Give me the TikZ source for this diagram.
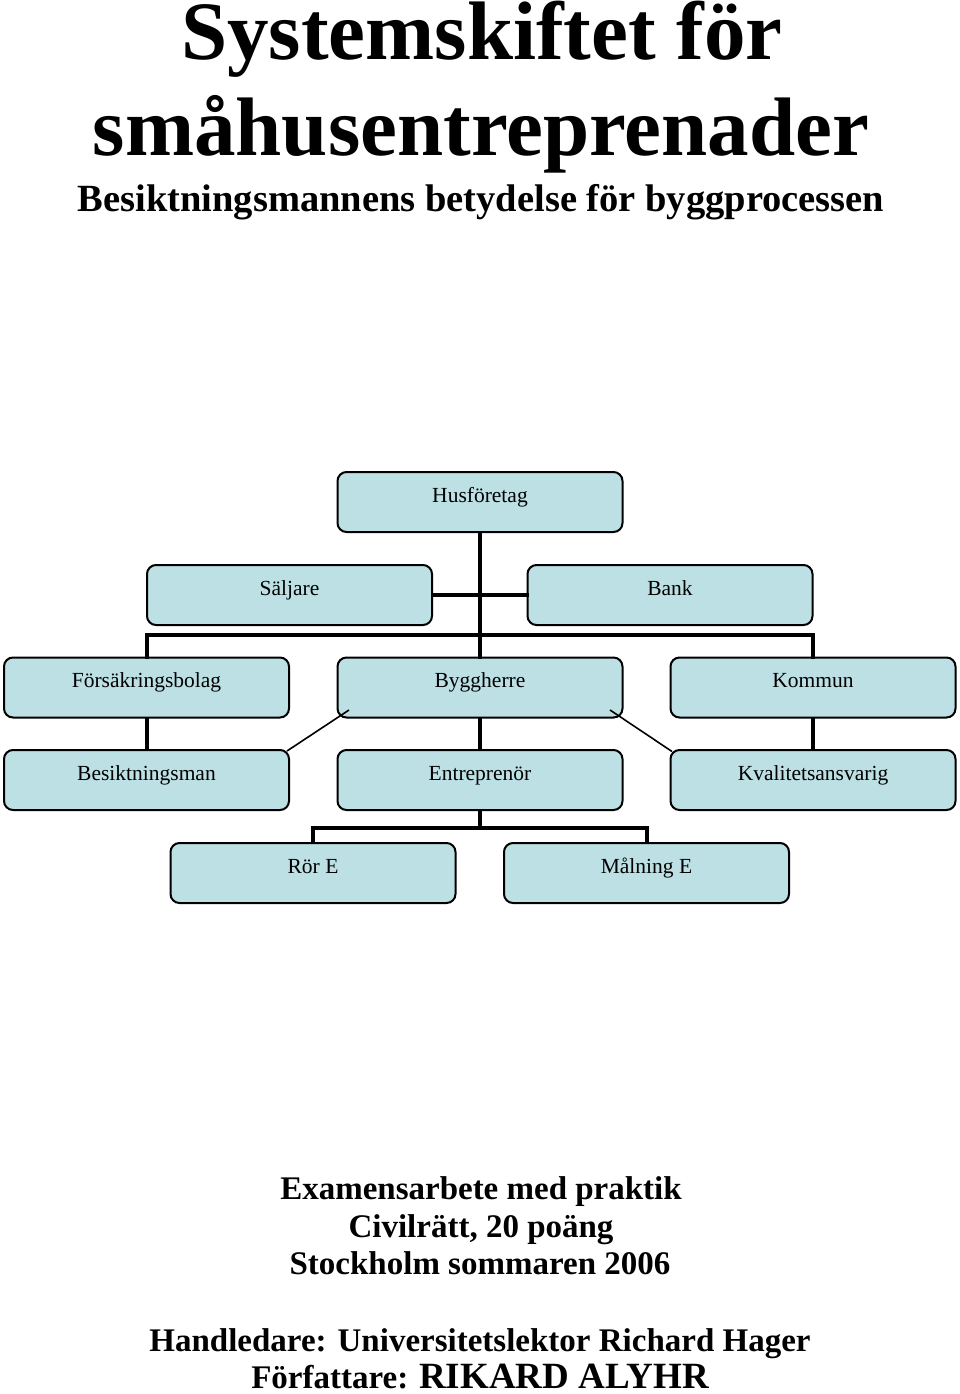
\documentclass[tikz,border=0pt]{standalone}
\usepackage{fontspec}
\setmainfont{Liberation Serif}
\definecolor{boxfill}{HTML}{BCE0E4}
\tikzset{
  orgbox/.style={draw=black, line width=2pt, rounded corners=9pt, fill=boxfill,
    minimum width=285pt, inner xsep=0pt, inner ysep=0pt, text height=30pt, text depth=30pt,
    font=\fontsize{21.5}{24}\selectfont},
  conn/.style={line width=4pt, draw=black, line join=miter, line cap=rect},
  diagline/.style={line width=1.6pt, draw=black},
  titletext/.style={anchor=base, inner sep=0pt, font=\fontsize{83}{83}\selectfont\bfseries},
  subtext/.style={anchor=base, inner sep=0pt, font=\fontsize{38.5}{40}\selectfont\bfseries},
  foottext/.style={anchor=base, inner sep=0pt, font=\fontsize{33}{36}\selectfont\bfseries}
}
\begin{document}
\begin{tikzpicture}[x=1pt,y=-1pt]
\useasboundingbox (0,0) rectangle (960,1394);
% titles
\node[titletext] (t1) at (482,60) {Systemskiftet för};
\node[titletext] (t2) at (481,155) {småhusentreprenader};
\node[subtext] (t3) at (481,211) {Besiktningsmannens betydelse för byggprocessen};
% boxes
\node[orgbox] (hus) at (480,502) {Husföretag};
\node[orgbox] (salj) at (289.5,595) {Säljare};
\node[orgbox] (bank) at (670,595) {Bank};
\node[orgbox] (fors) at (146.5,687.5) {Försäkringsbolag};
\node[orgbox] (byg) at (480,687.5) {Byggherre};
\node[orgbox] (komm) at (813,687.5) {Kommun};
\node[orgbox] (besikt) at (146.5,780) {Besiktningsman};
\node[orgbox] (entr) at (480,780) {Entreprenör};
\node[orgbox] (kval) at (813,780) {Kvalitetsansvarig};
\node[orgbox] (ror) at (313,873) {Rör E};
\node[orgbox] (maln) at (646.5,873) {Målning E};
% junctions
\coordinate (b1) at (480,635);
\coordinate (b2) at (480,828);
% connectors
\draw[conn] (hus.south) -- (byg.north);
\draw[conn] (salj.east) -- (bank.west);
\draw[conn] (fors.north) |- (b1) -| (komm.north);
\draw[conn] (fors.south) -- (besikt.north);
\draw[conn] (byg.south) -- (entr.north);
\draw[conn] (komm.south) -- (kval.north);
\draw[conn] (entr.south) -- (b2);
\draw[conn] (ror.north) |- (b2) -| (maln.north);
\draw[diagline] ([shift={(-3,2)}]besikt.north east) -- ([shift={(12.5,-8.5)}]byg.south west);
\draw[diagline] ([shift={(2.5,2.5)}]kval.north west) -- ([shift={(-13.5,-8.5)}]byg.south east);
% footer
\node[foottext] (f1) at (481,1199) {Examensarbete med praktik};
\node[foottext] (f2) at (481,1237) {Civilrätt, 20 poäng};
\node[foottext] (f3) at (480,1274) {Stockholm sommaren 2006};
\node[foottext] (f4) at (480,1351) {Handledare: Universitetslektor Richard Hager};
\node[foottext] (f5) at (480,1388) {Författare: {\fontsize{37}{40}\selectfont RIKARD ALYHR}};
\end{tikzpicture}
\end{document}
